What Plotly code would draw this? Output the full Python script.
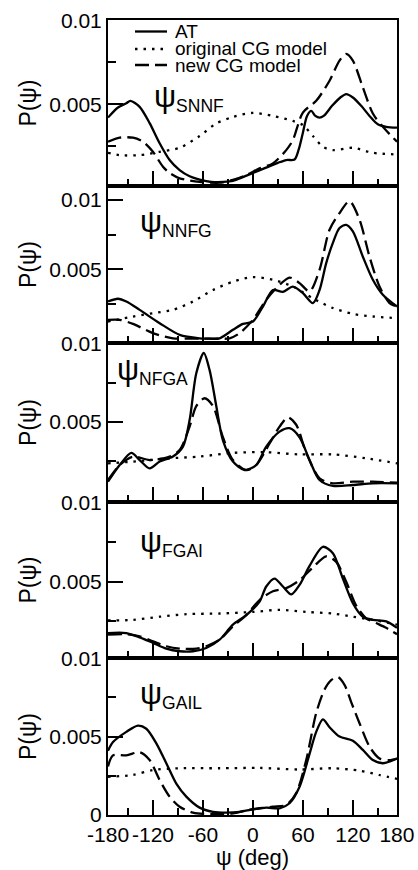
import plotly.graph_objects as go
from plotly.subplots import make_subplots

# ---------------- data (psi in degrees, P(psi)) ----------------
# Panel 1: psi_SNNF
SNNF_AT_X = [-174, -162, -152, -147, -136, -124, -112, -100, -88, -76, -64, -50, -36, -24, -12, 0, 15, 30, 40, 50, 55, 60, 65, 70, 75, 80, 85, 95, 105, 112, 120, 130, 140, 150, 160, 173]
SNNF_AT_Y = [0.0042, 0.0048, 0.00506, 0.0052, 0.00484, 0.00387, 0.00267, 0.00167, 0.00107, 0.0007, 0.0005, 0.00036, 0.00037, 0.00043, 0.00065, 0.0009, 0.0012, 0.0015, 0.00167, 0.0017, 0.0023, 0.0033, 0.0043, 0.0046, 0.0043, 0.0042, 0.0043, 0.0049, 0.0054, 0.0056, 0.0054, 0.0049, 0.0043, 0.0038, 0.00365, 0.0036]
SNNF_CG_X = [-174, -160, -136, -112, -88, -64, -44, -24, 0, 24, 48, 60, 72, 84, 96, 120, 144, 173]
SNNF_CG_Y = [0.0021, 0.00196, 0.00196, 0.00216, 0.0024, 0.0031, 0.00385, 0.00424, 0.00448, 0.0043, 0.0040, 0.00375, 0.0031, 0.00246, 0.00226, 0.0024, 0.0021, 0.0020]
SNNF_NEW_X = [-174, -160, -144, -132, -120, -108, -100, -88, -64, -40, -24, -8, 8, 24, 40, 48, 60, 76, 92, 104, 112, 120, 132, 144, 156, 173]
SNNF_NEW_Y = [0.00276, 0.0030, 0.0030, 0.00276, 0.00216, 0.00127, 0.0009, 0.00058, 0.00037, 0.00032, 0.00048, 0.00077, 0.00117, 0.00147, 0.00226, 0.00286, 0.0045, 0.0052, 0.0064, 0.0076, 0.0080, 0.0076, 0.0060, 0.00444, 0.00365, 0.00276]

# Panel 2: psi_NNFG
NNFG_AT_X = [-174, -162, -152, -136, -112, -88, -64, -56, -40, -24, -12, 0, 12, 24, 36, 48, 60, 72, 80, 88, 96, 104, 112, 120, 132, 144, 156, 173]
NNFG_AT_Y = [0.00267, 0.00287, 0.00267, 0.00207, 0.00111, 0.00027, 0.00002, 0.0, 0.00002, 0.00063, 0.00106, 0.00123, 0.00231, 0.0035, 0.00337, 0.00375, 0.00328, 0.00256, 0.0035, 0.00544, 0.0069, 0.00797, 0.0082, 0.00773, 0.0059, 0.00424, 0.00316, 0.00231]
NNFG_CG_X = [-174, -144, -120, -96, -72, -48, -24, 0, 24, 48, 72, 96, 120, 144, 173]
NNFG_CG_Y = [0.00123, 0.00159, 0.00183, 0.00207, 0.00267, 0.0035, 0.0041, 0.00443, 0.00424, 0.00375, 0.0029, 0.0022, 0.00178, 0.00159, 0.00147]
NNFG_NEW_X = [-174, -160, -144, -120, -96, -72, -48, -28, -16, 0, 16, 32, 44, 56, 68, 80, 92, 104, 116, 128, 140, 152, 164, 173]
NNFG_NEW_Y = [0.00135, 0.00135, 0.00106, 0.00039, 0.00002, 0.0, 0.0, 0.00002, 0.00039, 0.00135, 0.0028, 0.00388, 0.0044, 0.0040, 0.0034, 0.00496, 0.00785, 0.00905, 0.0099, 0.00857, 0.0059, 0.00375, 0.00256, 0.0023]

# Panel 3: psi_NFGA
NFGA_AT_X = [-174, -160, -146, -136, -124, -112, -96, -84, -76, -68, -59, -52, -44, -36, -24, -10, 4, 16, 32, 44, 56, 68, 80, 96, 120, 144, 173]
NFGA_AT_Y = [0.00115, 0.00222, 0.0030, 0.00254, 0.0020, 0.00244, 0.00276, 0.0034, 0.0051, 0.0081, 0.0094, 0.0083, 0.0060, 0.0038, 0.00244, 0.0019, 0.00222, 0.0034, 0.00436, 0.00458, 0.0040, 0.00254, 0.00126, 0.00088, 0.00094, 0.00105, 0.00105]
NFGA_CG_X = [-174, -144, -100, -64, -24, 16, 56, 96, 136, 173]
NFGA_CG_Y = [0.00233, 0.00244, 0.00265, 0.00276, 0.0030, 0.00304, 0.0029, 0.0029, 0.00265, 0.00233]
NFGA_NEW_X = [-174, -160, -144, -124, -100, -88, -76, -68, -58, -48, -36, -24, -8, 4, 20, 32, 42, 52, 64, 80, 96, 120, 144, 173]
NFGA_NEW_Y = [0.00126, 0.00222, 0.00276, 0.00254, 0.00276, 0.00318, 0.00468, 0.0060, 0.0065, 0.0060, 0.0040, 0.00254, 0.0019, 0.00222, 0.0036, 0.00468, 0.00528, 0.0048, 0.0030, 0.00137, 0.00105, 0.00115, 0.00115, 0.00109]

# Panel 4: psi_FGAI
FGAI_AT_X = [-174, -152, -136, -120, -104, -88, -72, -56, -40, -24, -8, 8, 16, 26, 36, 46, 56, 68, 84, 96, 108, 120, 132, 144, 160, 173]
FGAI_AT_Y = [0.00177, 0.00177, 0.0015, 0.00115, 0.00079, 0.000625, 0.000625, 0.00083, 0.00135, 0.0023, 0.0029, 0.00375, 0.0047, 0.0052, 0.0047, 0.0042, 0.0048, 0.0060, 0.0072, 0.0068, 0.0052, 0.00365, 0.0028, 0.0026, 0.0025, 0.0021]
FGAI_CG_X = [-174, -144, -112, -80, -40, 0, 32, 64, 96, 120, 144, 173]
FGAI_CG_Y = [0.00256, 0.0026, 0.0028, 0.00296, 0.0030, 0.0031, 0.00323, 0.0031, 0.0030, 0.0028, 0.0026, 0.0023]
FGAI_NEW_X = [-174, -152, -136, -120, -104, -88, -68, -56, -40, -24, -8, 8, 24, 40, 56, 72, 88, 100, 112, 124, 136, 148, 160, 173]
FGAI_NEW_Y = [0.00167, 0.0017, 0.00156, 0.00125, 0.00094, 0.00079, 0.00079, 0.00094, 0.00135, 0.0022, 0.0029, 0.00385, 0.0044, 0.0046, 0.0051, 0.0059, 0.0066, 0.00625, 0.0050, 0.0035, 0.0027, 0.0024, 0.0021, 0.0017]

# Panel 5: psi_GAIL
GAIL_AT_X = [-174, -168, -152, -138, -128, -116, -104, -92, -80, -64, -48, -32, -16, 0, 16, 32, 44, 56, 68, 76, 84, 92, 104, 120, 132, 144, 156, 173]
GAIL_AT_Y = [0.0041, 0.00465, 0.0053, 0.0057, 0.0055, 0.00457, 0.0033, 0.0020, 0.00117, 0.00047, 0.0002, 0.00015, 0.0002, 0.00036, 0.00047, 0.00043, 0.00075, 0.0018, 0.0039, 0.0053, 0.0061, 0.0056, 0.0050, 0.00474, 0.00415, 0.0035, 0.0033, 0.0036]
GAIL_CG_X = [-174, -144, -120, -88, -40, 8, 56, 96, 128, 152, 173]
GAIL_CG_Y = [0.00244, 0.00255, 0.00287, 0.00298, 0.00298, 0.0030, 0.0029, 0.00298, 0.00283, 0.00255, 0.0023]
GAIL_NEW_X = [-174, -168, -152, -136, -124, -112, -100, -88, -72, -48, -24, -8, 8, 24, 40, 52, 64, 76, 86, 94, 102, 110, 118, 128, 140, 152, 164, 173]
GAIL_NEW_Y = [0.0031, 0.0038, 0.0038, 0.0040, 0.0035, 0.00223, 0.00117, 0.00053, 0.00015, 0.00005, 0.0001, 0.0003, 0.00043, 0.00053, 0.00064, 0.0014, 0.0035, 0.0065, 0.0080, 0.0086, 0.0088, 0.0083, 0.0072, 0.00585, 0.00436, 0.0036, 0.0035, 0.0036]

PANEL_NAMES = ["SNNF", "NNFG", "NFGA", "FGAI", "GAIL"]
SERIES_NAMES = ["AT", "original CG model", "new CG model"]
X_TICK_VALUES = [-120, -60, 0, 60, 120]
X_TICK_TEXT = ["-120", "-60", "0", "60", "120"]
X_EDGE_TEXT = ["-180", "180"]

panels = [
    (SNNF_AT_X, SNNF_AT_Y, SNNF_CG_X, SNNF_CG_Y, SNNF_NEW_X, SNNF_NEW_Y),
    (NNFG_AT_X, NNFG_AT_Y, NNFG_CG_X, NNFG_CG_Y, NNFG_NEW_X, NNFG_NEW_Y),
    (NFGA_AT_X, NFGA_AT_Y, NFGA_CG_X, NFGA_CG_Y, NFGA_NEW_X, NFGA_NEW_Y),
    (FGAI_AT_X, FGAI_AT_Y, FGAI_CG_X, FGAI_CG_Y, FGAI_NEW_X, FGAI_NEW_Y),
    (GAIL_AT_X, GAIL_AT_Y, GAIL_CG_X, GAIL_CG_Y, GAIL_NEW_X, GAIL_NEW_Y),
]

# ---------------- layout geometry ----------------
W, H = 418, 870
ML, MR, MT, MB = 108, 21, 20, 55
PH = H - MT - MB
XR = [-174, 173]
panel_px = [(20, 186), (186, 343), (343, 502), (502, 658), (658, 815)]
y_ranges = [[0.00012, 0.01002], [-0.00032, 0.0110], [-0.00015, 0.01004], [0.0002, 0.01002], [0.0, 0.01001]]
y_ticks = [[0.005, 0.01], [0.005, 0.01], [0.005, 0.01], [0.005, 0.01], [0, 0.005, 0.01]]
label_px = [(152, 98), (138, 222), (115, 370), (138, 542), (138, 694)]

FONT = "Liberation Sans, Arial, Helvetica, sans-serif"
dash_styles = ["solid", "2.5px,6px", "14px,6px"]
LW = 2.3

fig = make_subplots(rows=5, cols=1, vertical_spacing=0)

for i, p in enumerate(panels):
    for s in range(3):
        fig.add_trace(go.Scatter(
            x=p[2 * s], y=p[2 * s + 1], mode="lines", name=SERIES_NAMES[s],
            line=dict(color="black", width=LW, dash=dash_styles[s], shape="spline", smoothing=0.8),
            showlegend=False), row=i + 1, col=1)

def py2paper(py):
    return (H - MB - py) / PH

def px2paper(px):
    return (px - ML) / (W - ML - MR)

for i in range(5):
    top, bot = panel_px[i]
    last = (i == 4)
    xt = dict(
        range=XR, showline=True, linewidth=2, linecolor="black", mirror=True,
        ticks="inside", ticklen=15, tickwidth=2, tickcolor="black",
        tickmode="array",
        tickvals=([XR[0] + 0.1] + X_TICK_VALUES + [XR[1] - 0.1]) if last else X_TICK_VALUES,
        ticktext=([X_EDGE_TEXT[0]] + X_TICK_TEXT + [X_EDGE_TEXT[1]]) if last else X_TICK_TEXT,
        showticklabels=last, ticklabeloverflow="allow",
        minor=dict(tickmode="array", tickvals=[-150, -90, -30, 30, 90, 150], ticks="inside",
                   ticklen=7, tickwidth=2, tickcolor="black"),
        showgrid=False, zeroline=False,
        tickfont=dict(family=FONT, size=21, color="black"),
    )
    if last:
        xt["title"] = dict(text="ψ (deg)", font=dict(family=FONT, size=22, color="black"), standoff=4)
    yt = dict(
        domain=[py2paper(bot), py2paper(top)],
        range=y_ranges[i], showline=True, linewidth=2, linecolor="black", mirror=True,
        ticks="inside", ticklen=15, tickwidth=2, tickcolor="black",
        tickmode="array", tickvals=y_ticks[i],
        ticktext=[("0" if v == 0 else ("0.01" if v == 0.01 else "0.005")) for v in y_ticks[i]],
        minor=dict(tickmode="array", tickvals=[0.0025, 0.0075], ticks="inside",
                   ticklen=8, tickwidth=2, tickcolor="black"),
        showgrid=False, zeroline=False,
        tickfont=dict(family=FONT, size=21, color="black"),
        title=dict(text="P(ψ)", font=dict(family=FONT, size=23, color="black"), standoff=6),
    )
    fig.update_layout({f"xaxis{i + 1}": xt, f"yaxis{i + 1}": yt})

annotations = []
for i, name in enumerate(PANEL_NAMES):
    lx, ly = label_px[i]
    annotations.append(dict(
        x=px2paper(lx), y=py2paper(ly), xref="paper", yref="paper",
        xanchor="left", yanchor="middle", showarrow=False,
        text=f"<span style='font-size:31px'>ψ</span><sub>{name}</sub>",
        font=dict(family=FONT, size=25, color="black")))

# legend (inside top panel)
leg_rows = [31.5, 49, 65]
shapes = []
for s in range(3):
    yy = py2paper(leg_rows[s])
    shapes.append(dict(type="line", xref="paper", yref="paper",
                       x0=px2paper(135), x1=px2paper(167), y0=yy, y1=yy,
                       line=dict(color="black", width=LW, dash=dash_styles[s])))
    annotations.append(dict(
        x=px2paper(173), y=yy, xref="paper", yref="paper",
        xanchor="left", yanchor="middle", showarrow=False,
        text=SERIES_NAMES[s], font=dict(family=FONT, size=19, color="black")))

fig.update_layout(
    width=W, height=H,
    margin=dict(l=ML, r=MR, t=MT, b=MB, autoexpand=False),
    paper_bgcolor="white", plot_bgcolor="white",
    showlegend=False,
    annotations=annotations, shapes=shapes,
    font=dict(family=FONT, color="black"),
)

fig.write_html("out.html", config={"displayModeBar": False},
               post_script="document.body.style.margin='0';document.body.style.overflow='hidden';")
